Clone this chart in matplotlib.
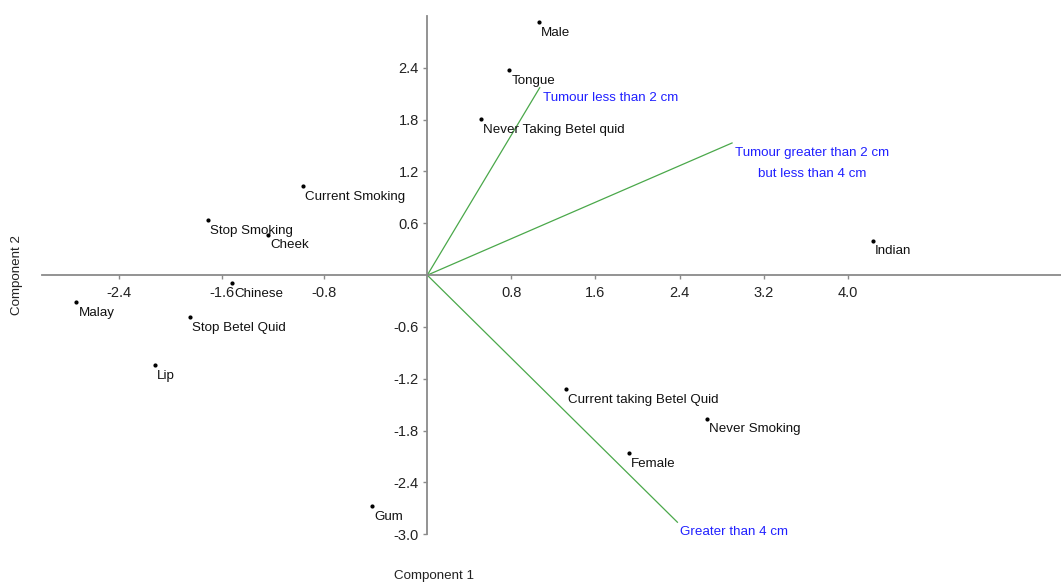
"""Biplot of component scores with tumour size vectors"""

import numpy as np
import matplotlib
matplotlib.use("Agg")
import matplotlib.pyplot as plt

plt.rcParams['font.family'] = ['Liberation Sans', 'DejaVu Sans']

# scores (component 1, component 2)
names = ["Male", "Tongue", "Never Taking Betel quid", "Current Smoking",
         "Stop Smoking", "Cheek", "Chinese", "Malay", "Stop Betel Quid",
         "Lip", "Gum", "Current taking Betel Quid", "Never Smoking",
         "Female", "Indian"]
comp1 = [1.06, 0.78, 0.51, -0.97, -1.71, -1.24, -1.52, -2.73, -1.85,
         -2.12, -0.43, 1.32, 2.66, 1.92, 4.24]
comp2 = [2.93, 2.37, 1.81, 1.03, 0.64, 0.47, -0.09, -0.31, -0.49,
         -1.04, -2.67, -1.32, -1.66, -2.06, 0.40]

# loading vectors
vec_names = ["Tumour less than 2 cm",
             "Tumour greater than 2 cm\nbut less than 4 cm",
             "Greater than 4 cm"]
vec_x = [1.07, 2.90, 2.38]
vec_y = [2.17, 1.53, -2.86]

xticks = [-2.4, -1.6, -0.8, 0.8, 1.6, 2.4, 3.2, 4.0]
yticks = [-3.0, -2.4, -1.8, -1.2, -0.6, 0.6, 1.2, 1.8, 2.4]

# the negative half of the x axis is drawn wider than the positive half
K = 1.223
def fwd(x):
    x = np.asarray(x, dtype=float)
    return np.where(x < 0, x * K, x)
def inv(y):
    y = np.asarray(y, dtype=float)
    return np.where(y < 0, y / K, y)

fig = plt.figure(figsize=(10.61, 5.83), dpi=100)
ax = fig.add_axes([0.0393, 0.0835, 0.9607, 0.8891])
ax.set_xscale('function', functions=(fwd, inv))
ax.set_xlim(-3.0, 6.03)
ax.set_ylim(-3.0, 3.0)

for s in ['top', 'right']:
    ax.spines[s].set_visible(False)
for s in ['left', 'bottom']:
    ax.spines[s].set_position(('data', 0))
    ax.spines[s].set_color('#8a8a8a')
    ax.spines[s].set_linewidth(1.3)

ax.set_xticks(xticks)
ax.set_xticklabels(["{:.1f}".format(t) for t in xticks])
ax.set_yticks(yticks)
ax.set_yticklabels(["{:.1f}".format(t) for t in yticks])
ax.xaxis.set_minor_locator(matplotlib.ticker.NullLocator())
ax.tick_params(direction='out', length=3, width=1, color='#8a8a8a',
               labelsize=10.5, labelcolor='#222222', pad=3)
ax.tick_params(axis='x', pad=4.5)

for vx, vy, vn in zip(vec_x, vec_y, vec_names):
    ax.plot([0, vx], [0, vy], color='#4aa84a', lw=0.9)
    ax.annotate(vn, (vx, vy), xytext=(2, -3), textcoords='offset points',
                ha='left', va='top', multialignment='center',
                linespacing=1.95, color='#2020ff', fontsize=9.6)

ax.plot(comp1, comp2, 'o', color='black', markersize=2)
for x, y, n in zip(comp1, comp2, names):
    ax.annotate(n, (x, y), xytext=(1.5, -3.5), textcoords='offset points',
                ha='left', va='top', color='#111111', fontsize=9.6)

fig.text(434 / 1061, 1 - 576 / 583, "Component 1", ha='center', va='center',
         fontsize=9.6, color='#222222')
fig.text(17 / 1061, 1 - 275 / 583, "Component 2", ha='center', va='center',
         rotation=90, fontsize=9.6, color='#222222')

fig.savefig("out.png", dpi=100)
